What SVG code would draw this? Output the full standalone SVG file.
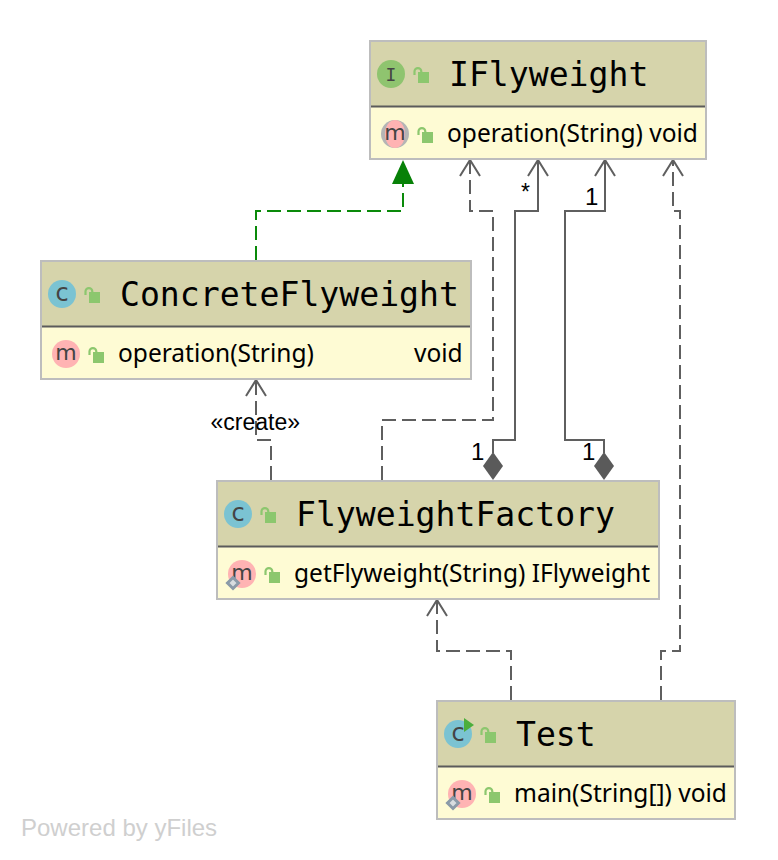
<svg xmlns="http://www.w3.org/2000/svg" width="778" height="860" viewBox="0 0 778 860">
<style>
.box{fill:#fefbd4;stroke:#bdbdbd;stroke-width:2}
.head{fill:#d6d4ab}
.div{stroke:#5b5b5b;stroke-width:2}
.title{font-family:"DejaVu Sans Mono",monospace;font-size:33.12px;fill:#000}
.m{font-family:"Noto Sans","Open Sans",sans-serif;font-size:24.5px;fill:#000}
.ic{font-family:"DejaVu Sans",sans-serif;font-size:24px;fill:#444;text-anchor:middle}
.im{font-size:22px}
.lab{font-family:"Liberation Sans",Arial,sans-serif;font-size:23px;fill:#000}
.n{font-size:24px}
.e{fill:none;stroke:#5f5f5f;stroke-width:2}
.d{stroke-dasharray:14 6}
.ah{fill:none;stroke:#5f5f5f;stroke-width:2}
.cc{fill:#7bc3d2}.mc{fill:#ffb3b3}.ic2{fill:#8fc46f}
.lock{fill:#8cc76e}.shack{fill:none;stroke:#8cc76e;stroke-width:2.2}
</style>
<defs>
<g id="lock"><rect x="5" y="3" width="11" height="11" class="lock"/><path d="M1.500 6V2.500a3.400 3.400 0 0 1 6.800 0V4" class="shack"/></g>
<path id="open" d="M-10 16L0 0L10 16" class="ah"/>
<path id="dia" d="M0 -14L10 0L0 14L-10 0Z" fill="#5a5a5a"/>
<g id="pkg"><path d="M0 -5.500L5.500 0L0 5.500L-5.500 0Z" fill="#d8dde0" stroke="#8a9aa8" stroke-width="3"/></g>
</defs>

<g id="connectors">
<path d="M256 260V211H403V184" fill="none" stroke="#0a8a0a" stroke-width="2" class="d"/>
<path d="M392 184L403 160L414 184Z" fill="#078107"/>
<path class="e d" d="M271 480V440H256V381"/><use href="#open" x="256" y="380"/>
<path class="e d" d="M382 480V420H493V211H470V161"/><use href="#open" x="470" y="160"/>
<path class="e" d="M493 453V440H515V211H538V161"/><use href="#open" x="538" y="160"/><use href="#dia" x="493" y="466"/>
<path class="e" d="M604 453V440H565V211H605V161"/><use href="#open" x="605" y="160"/><use href="#dia" x="604" y="466"/>
<path class="e d" d="M661 700V651H680V211H673V161"/><use href="#open" x="673" y="160"/>
<path class="e d" d="M511 700V651H437V601"/><use href="#open" x="437" y="600"/>
<text class="lab" x="210.500" y="430">«create»</text>
<text class="lab" x="521" y="200">*</text>
<text class="lab n" x="585" y="205">1</text>
<text class="lab n" x="471" y="460">1</text>
<text class="lab n" x="582" y="460">1</text>
</g>

<g id="IFlyweight">
<rect class="box" x="370" y="41" width="336" height="118"/>
<rect class="head" x="371" y="42" width="334" height="64"/>
<line class="div" x1="371" y1="106.500" x2="705" y2="106.500"/>
<circle class="ic2" cx="391" cy="74" r="14"/>
<text class="ic" x="391" y="81" font-size="18" style="font-family:'DejaVu Sans Mono',monospace;font-size:18px">I</text>
<use href="#lock" x="413" y="69"/>
<text class="title" x="449" y="86">IFlyweight</text>
<circle cx="395" cy="134" r="14" fill="#b5b5b5"/>
<ellipse class="mc" cx="395" cy="134" rx="10" ry="14"/>
<text class="ic im" x="395" y="140">m</text>
<use href="#lock" x="417" y="129"/>
<text class="m" x="447" y="142">operation(String) void</text>
</g>

<g id="ConcreteFlyweight">
<rect class="box" x="41" y="261" width="430" height="118"/>
<rect class="head" x="42" y="262" width="428" height="64"/>
<line class="div" x1="42" y1="326.500" x2="470" y2="326.500"/>
<circle class="cc" cx="62" cy="294" r="14"/>
<text class="ic" x="62" y="301">c</text>
<use href="#lock" x="84" y="289"/>
<text class="title" x="120" y="306">ConcreteFlyweight</text>
<circle class="mc" cx="66" cy="354" r="14"/>
<text class="ic im" x="66" y="360">m</text>
<use href="#lock" x="88" y="349"/>
<text class="m" x="118" y="362">operation(String)</text>
<text class="m" x="414" y="362">void</text>
</g>

<g id="FlyweightFactory">
<rect class="box" x="217" y="481" width="442" height="118"/>
<rect class="head" x="218" y="482" width="440" height="64"/>
<line class="div" x1="218" y1="546.500" x2="658" y2="546.500"/>
<circle class="cc" cx="238" cy="514" r="14"/>
<text class="ic" x="238" y="521">c</text>
<use href="#lock" x="260" y="509"/>
<text class="title" x="296" y="526">FlyweightFactory</text>
<circle class="mc" cx="242" cy="574" r="14"/>
<text class="ic im" x="242" y="580">m</text>
<use href="#pkg" x="233" y="583"/>
<use href="#lock" x="264" y="569"/>
<text class="m" x="294" y="582">getFlyweight(String) IFlyweight</text>
</g>

<g id="Test">
<rect class="box" x="437" y="701" width="298" height="118"/>
<rect class="head" x="438" y="702" width="296" height="64"/>
<line class="div" x1="438" y1="766.500" x2="734" y2="766.500"/>
<circle class="cc" cx="458" cy="734" r="14"/>
<text class="ic" x="458" y="741">c</text>
<path d="M464 718L474 725L464 732Z" fill="#4cae3c"/>
<use href="#lock" x="480" y="729"/>
<text class="title" x="516" y="746">Test</text>
<circle class="mc" cx="462" cy="794" r="14"/>
<text class="ic im" x="462" y="800">m</text>
<use href="#pkg" x="453" y="803"/>
<use href="#lock" x="484" y="789"/>
<text class="m" x="514" y="802">main(String[]) void</text>
</g>

<text x="21" y="836" font-family="'Liberation Sans',Arial,sans-serif" font-size="24" fill="#cfcfcf">Powered by yFiles</text>
</svg>
